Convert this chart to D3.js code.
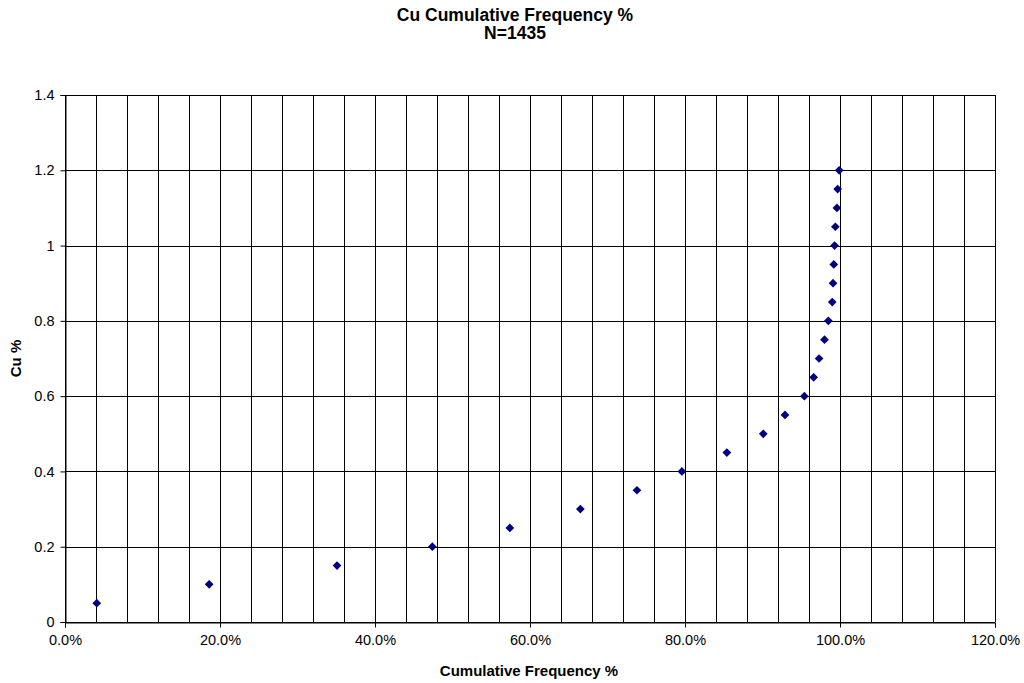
<!DOCTYPE html>
<html><head><meta charset="utf-8">
<script src="https://cdn.jsdelivr.net/npm/d3@7"></script>
<style>body{margin:0;background:#fff}svg{display:block}text{font-family:"Liberation Sans",Arial,sans-serif}</style>
</head><body><svg id="c" width="1024" height="683"></svg>
<script>
const titleLines = ["Cu Cumulative Frequency %", "N=1435"];
const xTitle = "Cumulative Frequency %";
const yTitle = "Cu %";
const cumFreq = [4.1, 18.6, 35.1, 47.4, 57.4, 66.5, 73.8, 79.6, 85.4, 90.1, 92.9, 95.4, 96.6, 97.3, 98.0, 98.5, 99.0, 99.1, 99.2, 99.3, 99.4, 99.6, 99.7, 99.9];
const cuValues = [0.05, 0.10, 0.15, 0.20, 0.25, 0.30, 0.35, 0.40, 0.45, 0.50, 0.55, 0.60, 0.65, 0.70, 0.75, 0.80, 0.85, 0.90, 0.95, 1.00, 1.05, 1.10, 1.15, 1.20];
const xTicks = [0, 20, 40, 60, 80, 100, 120];
const yTicks = [0, 0.2, 0.4, 0.6, 0.8, 1.0, 1.2, 1.4];
const xGrid = d3.range(0, 121, 4);

const svg = d3.select("#c");
const L = 65, R = 995, T = 95, B = 622;
const x = d3.scaleLinear().domain([0, 120]).range([L, R]);
const y = d3.scaleLinear().domain([0, 1.4]).range([B, T]);

// gridlines
svg.append("g").selectAll("line").data(xGrid).join("line")
  .attr("x1", d => Math.round(x(d)) + 0.5).attr("x2", d => Math.round(x(d)) + 0.5)
  .attr("y1", T).attr("y2", B).attr("stroke", "#000").attr("stroke-width", 1);
svg.append("g").selectAll("line").data(yTicks).join("line")
  .attr("y1", d => Math.round(y(d)) + 0.5).attr("y2", d => Math.round(y(d)) + 0.5)
  .attr("x1", L).attr("x2", R).attr("stroke", "#000").attr("stroke-width", 1);

// axes
const xAxis = svg.append("g").attr("transform", `translate(0,${B + 0.5})`)
  .call(d3.axisBottom(x).tickValues(xTicks).tickFormat(d => d.toFixed(1) + "%").tickSize(5).tickPadding(7));
const yAxis = svg.append("g").attr("transform", `translate(${L + 0.5},0)`)
  .call(d3.axisLeft(y).tickValues(yTicks).tickFormat(d => d3.format("")(+d.toFixed(1))).tickSize(5).tickPadding(6));
[xAxis, yAxis].forEach(a => {
  a.select(".domain").attr("stroke", "#000");
  a.selectAll(".tick line").attr("stroke", "#000");
  a.selectAll("text").attr("font-size", 14.5).attr("fill", "#000").attr("font-family", '"Liberation Sans",Arial,sans-serif');
});

// points (diamonds)
svg.append("g").selectAll("path").data(cumFreq.map((v, i) => [v, cuValues[i]])).join("path")
  .attr("d", d3.symbol().type(d3.symbolSquare).size(38))
  .attr("transform", d => `translate(${x(d[0])},${y(d[1])}) rotate(45)`)
  .attr("fill", "#000080");

// titles
svg.append("text").attr("text-anchor", "middle").attr("font-weight", "bold").attr("font-size", 17.5)
  .selectAll("tspan").data(titleLines).join("tspan")
  .attr("x", 515).attr("y", (d, i) => 21 + i * 18).text(d => d);
svg.append("text").attr("x", 529).attr("y", 676).attr("text-anchor", "middle")
  .attr("font-weight", "bold").attr("font-size", 15).text(xTitle);
svg.append("text").attr("transform", `translate(21,${(T + B) / 2}) rotate(-90)`).attr("text-anchor", "middle")
  .attr("font-weight", "bold").attr("font-size", 15).text(yTitle);
</script></body></html>
